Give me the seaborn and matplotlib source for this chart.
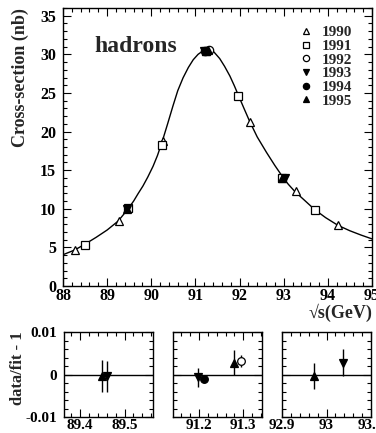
import matplotlib
matplotlib.use("Agg")
import matplotlib.pyplot as plt
from matplotlib.ticker import MultipleLocator, FuncFormatter
from matplotlib.lines import Line2D
import seaborn as sns
import pandas as pd

# ---------------- data ----------------
years = ["1990", "1991", "1992", "1993", "1994", "1995"]

# fitted line
curve_x = [87.93, 88.0, 88.265, 88.49, 88.75, 89.0, 89.25, 89.47, 89.6, 89.7,
           89.81, 89.92, 90.04, 90.14, 90.25, 90.37, 90.49, 90.6, 90.72, 90.84,
           90.95, 91.06, 91.17, 91.25, 91.32, 91.42, 91.55, 91.66, 91.78, 91.88,
           91.98, 92.1, 92.23, 92.4, 92.61, 92.8, 92.98, 93.1, 93.25, 93.5,
           93.70, 93.95, 94.23, 94.5, 94.75, 95.0]
curve_y = [3.97, 4.05, 4.66, 5.39, 6.3, 7.25, 8.41, 9.95, 11.0, 11.95,
           12.94, 14.1, 15.5, 16.9, 18.76, 21.0, 23.3, 25.3, 26.96, 28.3,
           29.3, 30.0, 30.45, 30.6, 30.6, 30.3, 29.45, 28.45, 27.2, 25.95,
           24.6, 23.0, 21.3, 19.3, 17.3, 15.6, 14.1, 13.2, 12.25, 10.95,
           9.9, 8.85, 7.85, 7.15, 6.6, 6.1]

# measured cross sections per year
x1990 = [88.27, 89.27, 90.26, 91.25, 92.24, 93.27, 94.22]
y1990 = [4.6, 8.4, 18.8, 30.4, 21.2, 12.3, 7.85]
x1991 = [88.50, 89.47, 90.24, 91.24, 91.97, 92.97, 93.72]
y1991 = [5.3, 10.05, 18.2, 30.4, 24.6, 14.0, 9.85]
x1992 = [91.30]
y1992 = [30.6]
x1993 = [89.45, 91.20, 93.04]
y1993 = [10.0, 30.4, 14.0]
x1994 = [91.21]
y1994 = [30.4]
x1995 = [89.44, 91.28, 92.97]
y1995 = [10.0, 30.5, 14.05]

# residuals (data/fit - 1) in three energy windows
r1_year = ["1995", "1993"]
r1_x = [89.449, 89.460]
r1_y = [-0.0004, -0.0004]
r1_e = [0.0037, 0.0036]

r2_year = ["1993", "1994", "1995", "1992"]
r2_x = [91.198, 91.212, 91.279, 91.295]
r2_y = [-0.0007, -0.0011, 0.0028, 0.0031]
r2_e = [0.0022, 0.0003, 0.0030, 0.0014]

r3_year = ["1995", "1993"]
r3_x = [92.973, 93.036]
r3_y = [-0.0004, 0.0028]
r3_e = [0.0030, 0.0031]

# ---------------- style ----------------
sns.set_style("ticks")
plt.rcParams["font.family"] = ["Liberation Serif", "DejaVu Serif"]
plt.rcParams["font.weight"] = "bold"
plt.rcParams["axes.labelweight"] = "bold"

styles = {
    "1990": dict(marker="^", mfc="white"),
    "1991": dict(marker="s", mfc="white"),
    "1992": dict(marker="o", mfc="white"),
    "1993": dict(marker="v", mfc="black"),
    "1994": dict(marker="o", mfc="black"),
    "1995": dict(marker="^", mfc="black"),
}
main_data = {
    "1990": (x1990, y1990), "1991": (x1991, y1991), "1992": (x1992, y1992),
    "1993": (x1993, y1993), "1994": (x1994, y1994), "1995": (x1995, y1995),
}

W, H = 376, 433
fig = plt.figure(figsize=(W / 100, H / 100), dpi=100)

def tickstyle(ax, fs):
    ax.tick_params(which="both", direction="in", top=True, right=True,
                   width=0.8, colors="black", labelsize=fs)
    ax.tick_params(which="major", length=6)
    ax.tick_params(which="minor", length=3)
    for s in ax.spines.values():
        s.set_linewidth(1.0)
        s.set_color("black")

# ---------------- main panel ----------------
ax = fig.add_axes([63 / W, 147 / H, 309 / W, 278 / H])
curve = pd.DataFrame({"x": curve_x, "y": curve_y})
sns.lineplot(data=curve, x="x", y="y", ax=ax, color="black", lw=1.0, sort=False)
for yr in years:
    xs, ys = main_data[yr]
    st = styles[yr]
    ax.plot(xs, ys, ls="none", marker=st["marker"], mfc=st["mfc"], mec="black",
            ms=6, mew=0.9, zorder=3)
ax.set_xlim(88, 95)
ax.set_ylim(0, 36)
ax.xaxis.set_major_locator(MultipleLocator(1))
ax.xaxis.set_minor_locator(MultipleLocator(0.2))
ax.yaxis.set_major_locator(MultipleLocator(5))
ax.yaxis.set_minor_locator(MultipleLocator(1))
tickstyle(ax, 11.5)
ax.tick_params(axis="x", pad=1.5)
ax.tick_params(axis="y", pad=5)
ax.set_xlabel("\u221as(GeV)", fontsize=13, loc="right", labelpad=0)
ax.set_ylabel("Cross-section (nb)", fontsize=13, loc="top", labelpad=8)
ax.text(0.1, 0.86, "hadrons", transform=ax.transAxes, fontsize=17,
        fontweight="bold", va="center", ha="left")

handles = [Line2D([], [], ls="none", marker=styles[y]["marker"],
                  mfc=styles[y]["mfc"], mec="black", ms=4.5, mew=0.9) for y in years]
ax.legend(handles, years, loc="upper right", bbox_to_anchor=(0.97, 0.975),
          frameon=False, fontsize=11, labelspacing=0.0, handlelength=1.0,
          handletextpad=0.5, borderpad=0.2)

# ---------------- residual panels ----------------
panels = [
    (64, (89.364, 89.564), r1_year, r1_x, r1_y, r1_e),
    (173, (91.142, 91.342), r2_year, r2_x, r2_y, r2_e),
    (282, (92.9, 93.1), r3_year, r3_x, r3_y, r3_e),
]
for i, (left, xl, yrs, xs, ys, es) in enumerate(panels):
    a = fig.add_axes([left / W, 16 / H, 89 / W, 85 / H])
    a.axhline(0, color="black", lw=1.0)
    for yr, x, y, e in zip(yrs, xs, ys, es):
        st = styles[yr]
        a.errorbar([x], [y], yerr=[e], fmt=st["marker"], mfc=st["mfc"], mec="black",
                   ecolor="black", elinewidth=1.0, capsize=0, ms=5.5, mew=0.9, zorder=3)
    a.set_xlim(*xl)
    a.set_ylim(-0.01, 0.01)
    a.xaxis.set_major_locator(MultipleLocator(0.1))
    a.xaxis.set_minor_locator(MultipleLocator(0.02))
    a.yaxis.set_major_locator(MultipleLocator(0.01))
    a.yaxis.set_minor_locator(MultipleLocator(0.002))
    a.xaxis.set_major_formatter(FuncFormatter(lambda v, p: f"{v:g}"))
    a.yaxis.set_major_formatter(FuncFormatter(lambda v, p: f"{round(v, 4):g}"))
    tickstyle(a, 11)
    a.tick_params(axis="x", pad=1.5)
    a.tick_params(axis="y", pad=5)
    if i == 0:
        a.set_ylabel("data/fit - 1", fontsize=12, ha="center", va="center")
        a.yaxis.set_label_coords(-0.52, 0.58)
    else:
        a.tick_params(axis="y", labelleft=False)

fig.savefig("out.png", dpi=100)
